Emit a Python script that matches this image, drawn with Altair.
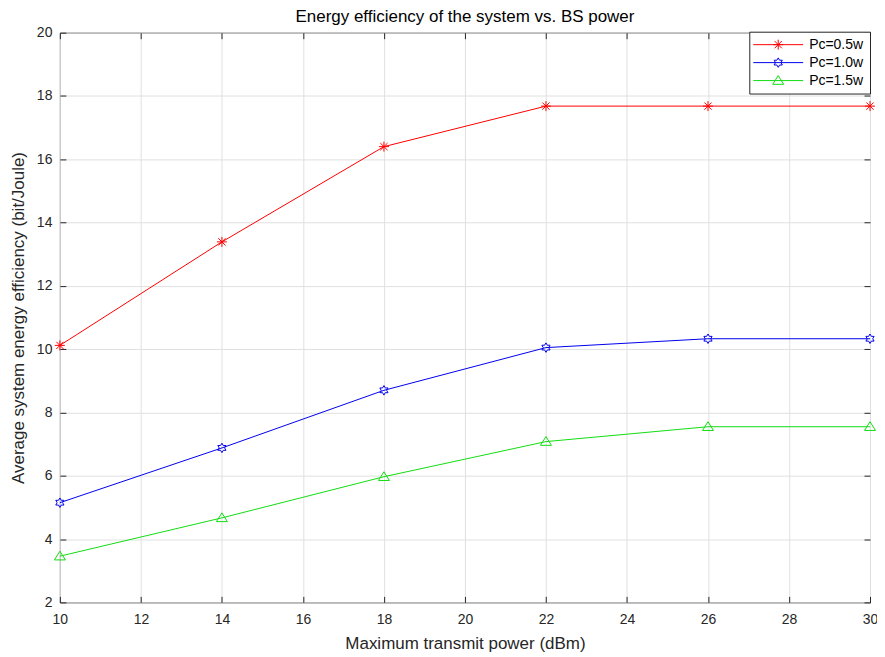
import altair as alt
import pandas as pd

# ---------------- data ----------------
x_power = [10, 14, 18, 22, 26, 30]
series_names = ["Pc=0.5w", "Pc=1.0w", "Pc=1.5w"]
ee_pc05 = [10.12, 13.39, 16.40, 17.68, 17.68, 17.68]
ee_pc10 = [5.15, 6.88, 8.70, 10.05, 10.33, 10.33]
ee_pc15 = [3.46, 4.67, 5.97, 7.08, 7.55, 7.55]
x_ticks = [10, 12, 14, 16, 18, 20, 22, 24, 26, 28, 30]
y_ticks = [2, 4, 6, 8, 10, 12, 14, 16, 18, 20]

# ---------------- styles ----------------
series_colors = ["#ff0000", "#0000ee", "#11dd11"]
FONT = "Liberation Sans"
W, H = 812, 571


def fmt(v):
    return f"{v:.3f}".rstrip("0").rstrip(".")


def segs_path(segs, dx=0.0):
    return "".join(f"M{fmt(a + dx)},{fmt(b)}L{fmt(c + dx)},{fmt(d)}" for a, b, c, d in segs)


def poly_path(pts, dx=0.0):
    s = "M" + "L".join(f"{fmt(x + dx)},{fmt(y)}" for x, y in pts)
    return s + "Z"


star_segs = [(-1, 0, 1, 0), (0, -1, 0, 1), (-0.72, -0.72, 0.72, 0.72), (-0.72, 0.72, 0.72, -0.72)]
hexa_pts = [(0, -0.95), (0.274, -0.475), (0.823, -0.475), (0.548, 0), (0.823, 0.475),
            (0.274, 0.475), (0, 0.95), (-0.274, 0.475), (-0.823, 0.475), (-0.548, 0),
            (-0.823, -0.475), (-0.274, -0.475)]
tri_pts = [(0, -1.0), (1.1, 0.75), (-1.1, 0.75)]


def marker_path(i, dx=0.0):
    if i == 0:
        return segs_path(star_segs, dx)
    if i == 1:
        return poly_path(hexa_pts, dx)
    return poly_path(tri_pts, dx)


marker_paths = [marker_path(i) for i in range(3)]
LEG_DX = 3.2
legend_paths = [f"M{fmt(LEG_DX - 5)},0L{fmt(LEG_DX + 5)},0" + marker_path(i, LEG_DX) for i in range(3)]

rows = []
for i, (name, vals) in enumerate(zip(series_names, [ee_pc05, ee_pc10, ee_pc15])):
    for xv, yv in zip(x_power, vals):
        rows.append({"power": xv, "ee": yv, "series": name,
                     "color": series_colors[i], "marker": marker_paths[i]})
df = pd.DataFrame(rows)

xscale = alt.Scale(domain=[10, 30], nice=False, zero=False)
yscale = alt.Scale(domain=[2, 20], nice=False, zero=False)

base = alt.Chart(df)

lines = base.mark_line(strokeWidth=1).encode(
    x=alt.X("power:Q", scale=xscale, title="Maximum transmit power (dBm)",
            axis=alt.Axis(values=x_ticks, grid=True, ticks=False, domain=False,
                          labelPadding=10, titlePadding=9, labelFlush=False)),
    y=alt.Y("ee:Q", scale=yscale, title="Average system energy efficiency (bit/Joule)",
            axis=alt.Axis(values=y_ticks, grid=True, ticks=False, domain=False,
                          labelPadding=8, titlePadding=9, labelFlush=False)),
    color=alt.Color("color:N", scale=None),
    detail="series:N",
)

points = base.mark_point(size=100, filled=False, strokeWidth=1, opacity=1).encode(
    x=alt.X("power:Q", scale=xscale, title="",
            axis=alt.Axis(orient="top", offset=-H, values=x_ticks, labels=False,
                          grid=False, ticks=True, tickSize=6, domain=False)),
    y=alt.Y("ee:Q", scale=yscale, title="",
            axis=alt.Axis(orient="right", offset=-W, values=y_ticks, labels=False,
                          grid=False, ticks=True, tickSize=6, domain=False)),
    color=alt.Color("color:N", scale=None),
    shape=alt.Shape("marker:N", scale=None),
)

leg = alt.Legend(title=None, orient="none", legendX=W - 121, legendY=-1, padding=6,
                 fillColor="white", strokeColor="#262626",
                 labelFont=FONT, labelFontSize=14, labelColor="black",
                 labelOffset=40, rowPadding=4, symbolOpacity=1,
                 symbolStrokeWidth=1, symbolSize=100, symbolFillColor="transparent",
                 cornerRadius=0)

legend_layer = base.mark_point(size=100, filled=False, strokeWidth=1, opacity=0).encode(
    x=alt.X("power:Q", scale=xscale, title="",
            axis=alt.Axis(orient="bottom", offset=-H, values=x_ticks, labels=False,
                          grid=False, ticks=True, tickSize=6, domain=False)),
    y=alt.Y("ee:Q", scale=yscale, title="",
            axis=alt.Axis(orient="left", offset=-W, values=y_ticks, labels=False,
                          grid=False, ticks=True, tickSize=6, domain=False)),
    color=alt.Color("series:N", scale=alt.Scale(domain=series_names, range=series_colors), legend=leg),
    shape=alt.Shape("series:N", scale=alt.Scale(domain=series_names, range=legend_paths), legend=leg),
)

chart = (
    alt.layer(lines, points, legend_layer)
    .resolve_axis(x="independent", y="independent")
    .properties(
        width=W,
        height=H,
        title=alt.Title("Energy efficiency of the system vs. BS power", fontSize=17,
                        font=FONT, fontWeight="normal", color="black", offset=7,
                        dy=7, anchor="middle"),
        padding={"left": 52, "top": 24, "right": 7, "bottom": 52},
        autosize=alt.AutoSizeParams(type="none"),
        background="white",
    )
    .configure_view(stroke="#262626", strokeWidth=1)
    .configure_axis(labelFont=FONT, labelFontSize=14, labelColor="#262626",
                    titleFont=FONT, titleFontSize=17, titleColor="#262626",
                    titleFontWeight="normal", tickColor="#262626", tickWidth=1,
                    gridColor="#e0e0e0", gridWidth=1)
)

chart.save("out.html", embed_options={"renderer": "svg", "actions": False})
